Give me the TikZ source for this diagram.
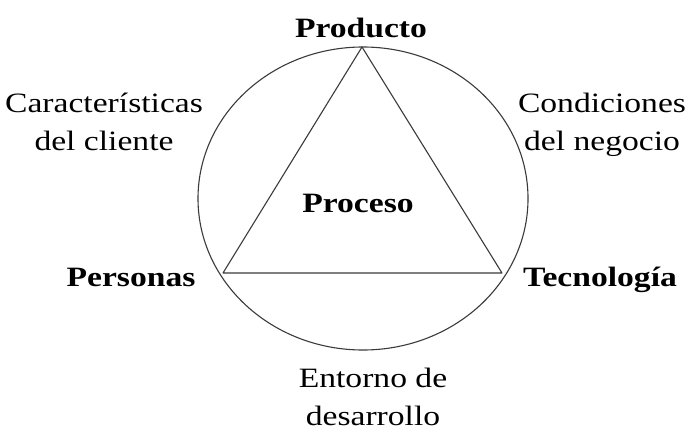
\documentclass[tikz,border=0pt]{standalone}
\usepackage{fontspec}
\setmainfont[FakeStretch=1.2]{Liberation Serif}
\usetikzlibrary{positioning}
\definecolor{Ink}{HTML}{3A3A3A}

\begin{document}
\begin{tikzpicture}[x=1pt,y=-1pt,
  edge/.style={draw=Ink,line width=1.1pt,line join=round},
  corner/.style={font=\fontsize{28}{38}\selectfont\bfseries,anchor=base,inner sep=0pt},
  factor/.style={font=\fontsize{28}{38}\selectfont,align=center,anchor=base,inner sep=0pt}
]
\useasboundingbox (0,0) rectangle (687,431);
% vertices of the triangle
\coordinate (top) at (362,47);
\coordinate (left) at (223,273);
\coordinate (right) at (502,273);
\coordinate (mid) at (363,198.5);
\draw[edge] (mid) ellipse [x radius=165, y radius=151.5];
\draw[edge] (top) -- (right) -- (left) -- cycle;
% labels
\node[corner] (prod) at (361,37) {Producto};
\node[corner] (proc) at (358,212) {Proceso};
\node[corner] (pers) at (131,286) {Personas};
\node[corner] (tecn) at (600,286) {Tecnología};
\node[factor] (cli) at (104,150) {Características\\del cliente};
\node[factor] (neg) at (602,150) {Condiciones\\del negocio};
\node[factor] (ent) at (373,425) {Entorno de\\desarrollo};
\end{tikzpicture}
\end{document}
